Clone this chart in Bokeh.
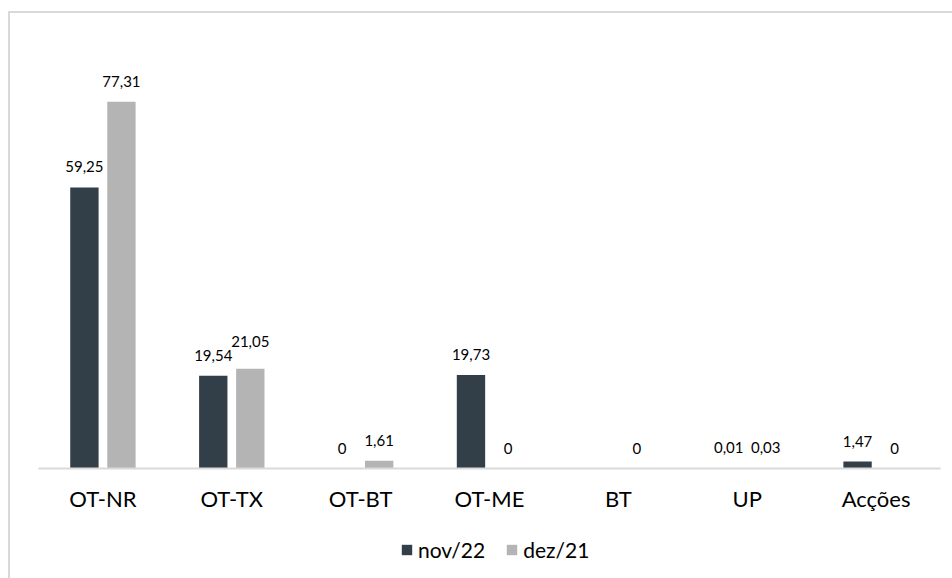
from bokeh.plotting import figure
from bokeh.models import (FactorRange, Range1d, ColumnDataSource, LabelSet,
                          Legend, LegendItem, Column)
from bokeh.core.properties import value
from bokeh.transform import dodge
from bokeh.embed import file_html
from bokeh.resources import INLINE

# ---- data ----
categories = ["OT-NR", "OT-TX", "OT-BT", "OT-ME", "BT", "UP", "Acções"]
series_names = ["nov/22", "dez/21"]
nov22 = [59.25, 19.54, 0, 19.73, None, 0.01, 1.47]
dez21 = [77.31, 21.05, 1.61, 0, 0, 0.03, 0]

# ---- style ----
colors = ["#323F48", "#B4B4B4"]
offsets = [-0.1437, 0.1437]
bar_w = 0.22
FONT = "Lato"
label_extra_offset = {("dez/21", "OT-TX"): 7}


def fmt(v):
    if v == 0:
        return "0"
    return f"{v:.2f}".replace(".", ",")


W = 942
H1, H2 = 510, 55
p = figure(x_range=FactorRange(factors=categories, range_padding=0),
           y_range=Range1d(0, 90),
           width=W, height=H1, output_backend="svg", toolbar_location=None,
           min_border_left=28, min_border_right=12, min_border_top=28,
           min_border_bottom=55)
p.outline_line_color = None
p.xgrid.visible = False
p.ygrid.visible = False
p.yaxis.visible = False
p.background_fill_color = "white"
p.border_fill_color = "white"

xa = p.xaxis[0]
xa.axis_line_color = "#D9D9D9"
xa.axis_line_width = 2
xa.major_tick_line_color = None
xa.minor_tick_line_color = None
xa.major_label_text_font = FONT
xa.major_label_text_font_size = "22px"
xa.major_label_text_color = "#000000"
xa.major_label_standoff = 10

for name, vals, col, off in zip(series_names, [nov22, dez21], colors, offsets):
    xs = [c for c, v in zip(categories, vals) if v is not None]
    ys = [v for v in vals if v is not None]
    src = ColumnDataSource(dict(
        cat=xs, val=ys, txt=[fmt(v) for v in ys],
        yoff=[15 + label_extra_offset.get((name, c), 0) for c in xs]))
    p.vbar(x=dodge("cat", off, range=p.x_range), top="val", width=bar_w,
           source=src, fill_color=col, line_color=None)
    labels = LabelSet(x=dodge("cat", off, range=p.x_range), y="val", text="txt",
                      y_offset="yoff", source=src, text_align="center",
                      text_baseline="alphabetic", text_font=value(FONT),
                      text_font_size="15px", text_color="#000000")
    p.add_layout(labels)

# legend strip below the chart (its frame is aligned with the chart's frame)
p2 = figure(x_range=Range1d(0, 1), y_range=Range1d(0, 1),
            width=W, height=H2, output_backend="svg", toolbar_location=None,
            x_axis_type=None, y_axis_type=None,
            min_border_left=0, min_border_right=0, min_border_top=0,
            min_border_bottom=0)
p2.outline_line_color = None
p2.xgrid.visible = False
p2.ygrid.visible = False
p2.background_fill_color = "white"
p2.border_fill_color = "white"
items = []
for name, col in zip(series_names, colors):
    # zero-height swatch glyph: only the legend shows its colour
    rr = p2.vbar(x=[0.5], top=[0], bottom=[0], width=0.1,
                 fill_color=col, line_color=None)
    items.append(LegendItem(label=name, renderers=[rr]))

legend = Legend(items=items, orientation="horizontal", location=(362, 16))
legend.border_line_color = None
legend.background_fill_alpha = 0
legend.glyph_width = 13
legend.glyph_height = 13
legend.label_text_font = FONT
legend.label_text_font_size = "21px"
legend.label_text_color = "#000000"
legend.label_standoff = 5
legend.spacing = 20
legend.padding = 0
legend.margin = 0
p2.add_layout(legend, "center")

layout = Column(p, p2, spacing=0)
layout.styles = {"margin-left": "8px", "margin-top": "11px",
                 "border-left": "2px solid #D9D9D9",
                 "border-top": "2px solid #D9D9D9"}

open("out.html", "w").write(file_html(layout, INLINE))
